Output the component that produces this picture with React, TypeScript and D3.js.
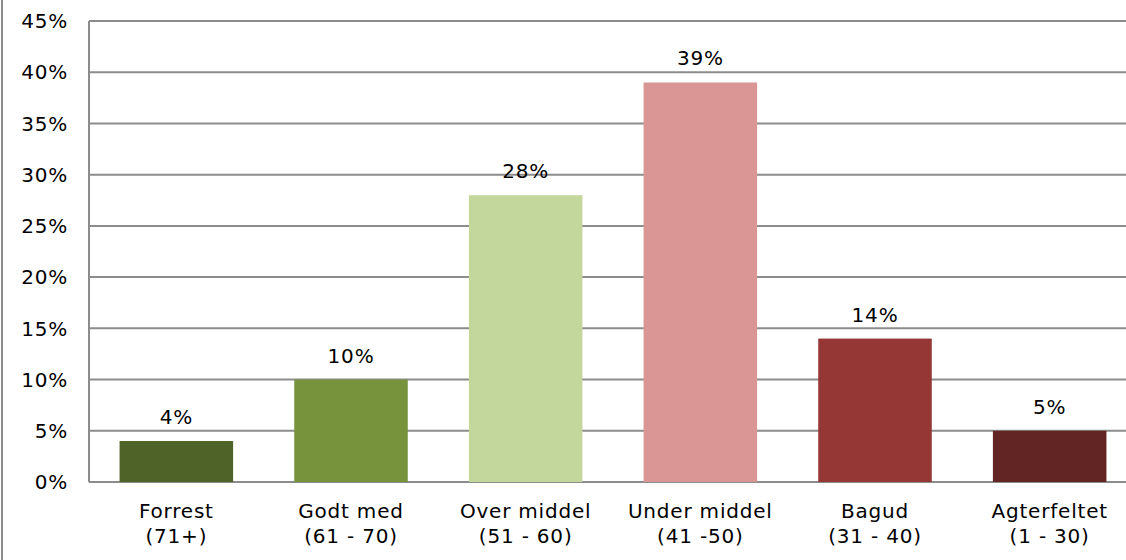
import * as React from 'react';
import * as d3 from 'd3';

const categories = ['Forrest', 'Godt med', 'Over middel', 'Under middel', 'Bagud', 'Agterfeltet'];
const ranges = ['(71+)', '(61 - 70)', '(51 - 60)', '(41 -50)', '(31 - 40)', '(1 - 30)'];
const values = [4, 10, 28, 39, 14, 5];
const colors = ['#4F6228', '#77933C', '#C3D69B', '#D99694', '#953735', '#632523'];
const yTicks = [0, 5, 10, 15, 20, 25, 30, 35, 40, 45];

const width = 1126;
const height = 560;
const margins = { top: 21, bottom: 78, left: 89, right: -11 };
const font = 'Verdana, "DejaVu Sans", sans-serif';
const fontSize = 20;
const spacing = 0.8;

export default function App() {
    const plotWidth = width - margins.left - margins.right;
    const plotHeight = height - margins.top - margins.bottom;

    const xScale = d3.scaleBand<string>()
        .domain(categories)
        .range([0, plotWidth])
        .paddingInner(0.35)
        .paddingOuter(0.175);
    const yScale = d3.scaleLinear().domain([0, 45]).range([plotHeight, 0]);

    return (
        <svg width={width} height={height}
            style={{ position: 'absolute', left: 0, top: 0, background: '#fff' }}
            fontFamily={font} fontSize={fontSize} letterSpacing={spacing} fill="#000">
            <line x1={2} x2={2} y1={0} y2={height} stroke="#8c8c8c" strokeWidth={2} />
            <g transform={`translate(${margins.left},${margins.top})`}>
                {yTicks.map(t => (
                    <g key={t}>
                        <line x1={0} x2={plotWidth} y1={yScale(t)} y2={yScale(t)}
                            stroke="#8c8c8c" strokeWidth={2} />
                        <text x={-21} y={yScale(t)} dy="0.36em" textAnchor="end">{t}%</text>
                    </g>
                ))}
                <line x1={0} x2={0} y1={0} y2={plotHeight} stroke="#8c8c8c" strokeWidth={2} />
                {categories.map((c, i) => {
                    const x = xScale(c) || 0;
                    const cx = x + xScale.bandwidth() / 2;
                    return (
                        <g key={c}>
                            <rect x={x} y={yScale(values[i])} width={xScale.bandwidth()}
                                height={plotHeight - yScale(values[i])} fill={colors[i]} />
                            <text x={cx} y={yScale(values[i]) - 17} textAnchor="middle">{values[i]}%</text>
                            <text x={cx} y={plotHeight + 36} textAnchor="middle">{c}</text>
                            <text x={cx} y={plotHeight + 61} textAnchor="middle">{ranges[i]}</text>
                        </g>
                    );
                })}
            </g>
        </svg>
    );
}
